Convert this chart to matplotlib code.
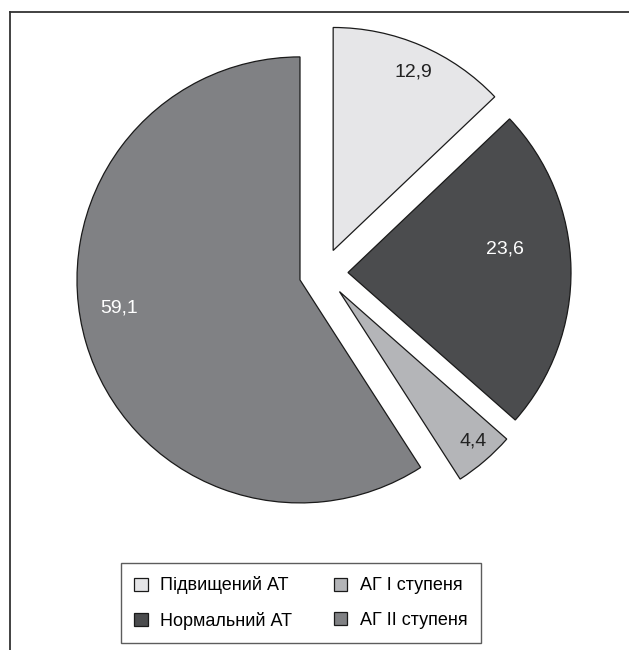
import matplotlib
matplotlib.use("Agg")
import matplotlib.pyplot as plt
from matplotlib.lines import Line2D
import numpy as np

categories = ["Підвищений АТ", "Нормальний АТ", "АГ I ступеня", "АГ II ступеня"]
values = [12.9, 23.6, 4.4, 59.1]
labels = ["12,9", "23,6", "4,4", "59,1"]
colors = ["#e6e6e8", "#4b4c4e", "#b4b5b8", "#808184"]
label_colors = ["#222222", "white", "#222222", "white"]

W, H = 629, 650
fig = plt.figure(figsize=(W / 100, H / 100), dpi=100)
ax = fig.add_axes([0, 0, 1, 1])

cx, cy = 323.5, H - 273
R = 223
explode = [24.5] * 4  # data units (pixels)
wedges, _ = ax.pie(values, colors=colors, startangle=90, counterclock=False,
                   center=(cx, cy), radius=R, explode=explode,
                   wedgeprops=dict(edgecolor="#1a1a1a", linewidth=0.9),
                   frame=True)
ax.set_xlim(0, W)
ax.set_ylim(0, H)
ax.axis("off")

fam = ["Liberation Sans Narrow", "Liberation Sans", "DejaVu Sans"]
rad_frac = [0.88, 0.71, 0.90, 0.82]
ang_tweak = [-1.0, 7.5, 1.0, -7.5]
for w, lab, lc, rf, at in zip(wedges, labels, label_colors, rad_frac, ang_tweak):
    ang = np.deg2rad((w.theta1 + w.theta2) / 2 + at)
    wx, wy = w.center
    ax.text(wx + rf * R * np.cos(ang), wy + rf * R * np.sin(ang), lab,
            ha="center", va="center", fontsize=14, color=lc, family=fam)

leg = fig.legend(wedges, categories, ncol=2, loc="center",
                 bbox_to_anchor=(301 / W, 1 - 603 / H),
                 frameon=True, fancybox=False, edgecolor="#333333",
                 prop=dict(family=fam, size=13), handlelength=0.75, handleheight=0.75,
                 handletextpad=0.7, columnspacing=2.3, borderpad=0.75, labelspacing=0.95,
                 borderaxespad=0)
leg.get_frame().set_linewidth(1.0)
for h in leg.legend_handles:
    h.set_edgecolor("#1a1a1a")
    h.set_linewidth(0.9)

fig.add_artist(Line2D([9.5 / W, 9.5 / W], [0, 1 - 12 / H], transform=fig.transFigure,
                      color="#333333", lw=1.3))
fig.add_artist(Line2D([9.5 / W, 1], [1 - 12 / H, 1 - 12 / H], transform=fig.transFigure,
                      color="#333333", lw=1.3))

fig.savefig("out.png", dpi=100, facecolor="white")
